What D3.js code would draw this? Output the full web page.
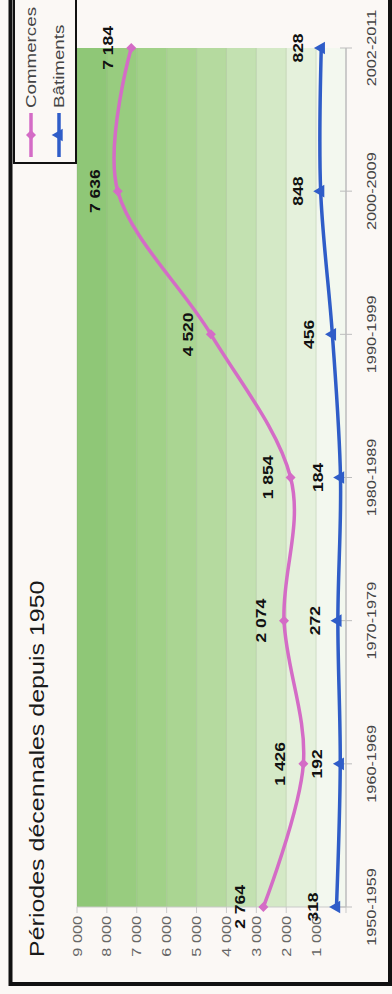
<!DOCTYPE html>
<html>
<head>
<meta charset="utf-8">
<script src="https://cdn.jsdelivr.net/npm/d3@7"></script>
<style>
  html, body { margin: 0; padding: 0; background: #fbf8f5; }
  svg { display: block; }
</style>
</head>
<body>
<svg id="chart" width="392" height="994"></svg>
<script>
// Ten-year periods and counts per series
const periods = ["1950-1959", "1960-1969", "1970-1979", "1980-1989", "1990-1999", "2000-2009", "2002-2011"];
const commerces = [2764, 1426, 2074, 1854, 4520, 7636, 7184];
const batiments = [318, 192, 272, 184, 456, 848, 828];
const seriesNames = ["Commerces", "Bâtiments"];
const valueTicks = [1000, 2000, 3000, 4000, 5000, 6000, 7000, 8000, 9000];
const titleText = "Périodes décennales depuis 1950";

// Chart is laid out landscape (W x H) and turned a quarter turn counter-clockwise
const W = 994, H = 392;
const SX = 1.25; // horizontal stretch of the lettering
const colors = { Commerces: "#d46cc6", "Bâtiments": "#2f5dc8" };
const bandPalette = ["#f3f8ef", "#e5f1dc", "#d4e9c6", "#c3e1b1", "#b5da9f", "#aad592", "#a1d188", "#98cc7f", "#8fc777"];

const svg = d3.select("#chart");
svg.append("rect").attr("width", 392).attr("height", 994).attr("fill", "#fbf8f5");
const g = svg.append("g").attr("transform", `translate(0,${W}) rotate(-90)`);

const x = d3.scalePoint().domain(periods).range([87, 946]);
const y = d3.scaleLinear().domain([0, 9000]).range([346, 77]);
const fr = d3.formatLocale({ decimal: ",", thousands: " ", grouping: [3], currency: ["", " €"] });
const fmt = fr.format(",");

function stretched(sel, fx, fy) {
  return sel.attr("transform", (d, i) => `translate(${fx(d, i)},${fy(d, i)}) scale(${SX},1)`);
}

// Outer frame
g.append("rect")
  .attr("x", 10).attr("y", 10.5).attr("width", 1000).attr("height", 379.5)
  .attr("fill", "none").attr("stroke", "#111").attr("stroke-width", 4);

// Plot background: one shaded band per 1 000 step
const edges = [0, ...valueTicks];
const x0 = x(periods[0]), x1 = x(periods[periods.length - 1]);
g.append("g").selectAll("rect")
  .data(d3.pairs(edges))
  .join("rect")
  .attr("x", x0)
  .attr("width", x1 - x0)
  .attr("y", d => y(d[1]))
  .attr("height", d => y(d[0]) - y(d[1]))
  .attr("fill", (d, i) => bandPalette[i]);

// Gridlines
g.append("g").selectAll("line")
  .data(valueTicks)
  .join("line")
  .attr("x1", x0).attr("x2", x1)
  .attr("y1", d => y(d)).attr("y2", d => y(d))
  .attr("stroke", "#7f9c74").attr("stroke-opacity", 0.25).attr("stroke-width", 1);

// Value axis
const yAxis = g.append("g");
yAxis.append("line")
  .attr("x1", x0).attr("x2", x0).attr("y1", y(0)).attr("y2", y(9000))
  .attr("stroke", "#c9c9c9");
yAxis.selectAll("line.tick")
  .data([0, ...valueTicks])
  .join("line").attr("class", "tick")
  .attr("x1", x0 - 6).attr("x2", x0)
  .attr("y1", d => y(d)).attr("y2", d => y(d))
  .attr("stroke", "#c9c9c9");
stretched(yAxis.selectAll("text")
  .data(valueTicks)
  .join("text")
  .attr("text-anchor", "end")
  .attr("dy", "0.35em")
  .attr("font-family", "Liberation Sans, Arial, sans-serif")
  .attr("font-size", 13)
  .attr("fill", "#666")
  .text(d => fmt(d)), () => 78, d => y(d));

// Category axis
const xAxis = g.append("g");
xAxis.append("line")
  .attr("x1", x0).attr("x2", x1).attr("y1", y(0)).attr("y2", y(0))
  .attr("stroke", "#bdbdbd").attr("stroke-width", 1.5);
xAxis.selectAll("line.tick")
  .data(periods)
  .join("line").attr("class", "tick")
  .attr("x1", d => x(d)).attr("x2", d => x(d))
  .attr("y1", y(0) - 6).attr("y2", y(0) + 6)
  .attr("stroke", "#bdbdbd");
stretched(xAxis.selectAll("text")
  .data(periods)
  .join("text")
  .attr("text-anchor", "middle")
  .attr("font-family", "Liberation Sans, Arial, sans-serif")
  .attr("font-size", 13)
  .attr("fill", "#444")
  .text(d => d), d => x(d), () => 376);

// Title
stretched(g.append("text").datum(titleText)
  .attr("font-family", "Liberation Sans, Arial, sans-serif")
  .attr("font-size", 20)
  .attr("fill", "#1a1a1a")
  .text(d => d), () => 37, () => 44);

// Series
const series = [
  { name: seriesNames[0], values: commerces, symbol: "diamond" },
  { name: seriesNames[1], values: batiments, symbol: "triangle" }
];
const line = d3.line()
  .x((d, i) => x(periods[i]))
  .y(d => y(d))
  .curve(d3.curveCardinal.tension(0));

function marker(sel, s) {
  if (s.symbol === "diamond") {
    sel.append("path")
      .attr("d", d3.symbol(d3.symbolSquare, 50)())
      .attr("transform", "rotate(45)")
      .attr("fill", colors[s.name]);
  } else {
    sel.append("path")
      .attr("d", d3.symbol(d3.symbolTriangle, 70)())
      .attr("fill", colors[s.name]);
  }
}

series.forEach(s => {
  const sg = g.append("g");
  sg.append("path")
    .attr("d", line(s.values))
    .attr("fill", "none")
    .attr("stroke", colors[s.name])
    .attr("stroke-width", 3.5)
    .attr("stroke-linejoin", "round");
  sg.selectAll("g.pt")
    .data(s.values)
    .join("g").attr("class", "pt")
    .attr("transform", (d, i) => `translate(${x(periods[i])},${y(d)})`)
    .each(function () { marker(d3.select(this), s); });
});

// Value labels
series.forEach(s => {
  stretched(g.append("g").selectAll("text")
    .data(s.values)
    .join("text")
    .attr("text-anchor", "middle")
    .attr("font-family", "Liberation Sans, Arial, sans-serif")
    .attr("font-size", 14)
    .attr("font-weight", "bold")
    .attr("fill", "#111")
    .text(d => fmt(d)), (d, i) => x(periods[i]), d => y(d) - 18);
});

// Legend
const lg = g.append("g");
lg.append("rect")
  .attr("x", 831).attr("y", 14).attr("width", 200).attr("height", 62)
  .attr("fill", "#fbf8f5").attr("stroke", "#111").attr("stroke-width", 2);
series.forEach((s, i) => {
  const cy = 31 + i * 28;
  const item = lg.append("g");
  item.append("line")
    .attr("x1", 837).attr("x2", 881).attr("y1", cy).attr("y2", cy)
    .attr("stroke", colors[s.name]).attr("stroke-width", 3.5);
  marker(item.append("g").attr("transform", `translate(859,${cy})`), s);
  stretched(item.append("text").datum(s.name)
    .attr("font-family", "Liberation Sans, Arial, sans-serif")
    .attr("font-size", 15)
    .attr("fill", "#444")
    .text(d => d), () => 886, () => cy + 5);
});
</script>
</body>
</html>
